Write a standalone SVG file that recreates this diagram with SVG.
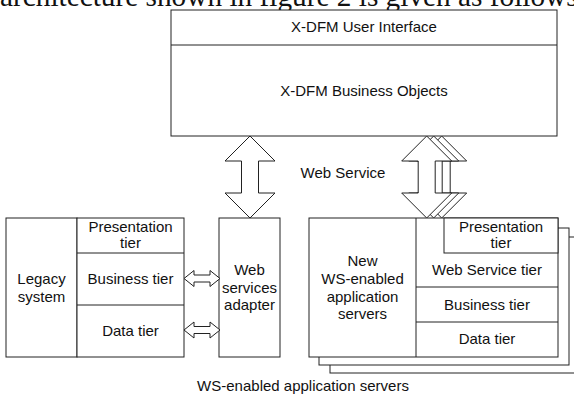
<svg xmlns="http://www.w3.org/2000/svg" width="574" height="399" viewBox="0 0 574 399">
  <style>
    .box { fill: #fff; stroke: #222; stroke-width: 1; }
    .ln { stroke: #222; stroke-width: 1; fill: none; }
    .lbl { font-family: "Liberation Sans", Arial, sans-serif; font-size: 15px; fill: #111; text-anchor: middle; }
    .page { font-family: "Liberation Serif", "Times New Roman", serif; font-size: 29.3px; fill: #111; }
  </style>
  <defs>
    <!-- vertical double arrow, top tip at origin, 82 long -->
    <path id="bigArrow" d="M0,0 L25,25 L8.5,25 L8.5,57 L25,57 L0,82 L-25,57 L-8.5,57 L-8.5,25 L-25,25 Z" fill="#fff" stroke="#222" stroke-width="1"/>
    <!-- horizontal double arrow, left tip at origin, 36 long -->
    <path id="smallArrow" d="M0,0 L10,-8 L10,-3.5 L26,-3.5 L26,-8 L36,0 L26,8 L26,3.5 L10,3.5 L10,8 Z" fill="#fff" stroke="#222" stroke-width="1"/>
  </defs>

  <rect width="574" height="399" fill="#fff"/>

  <!-- running text line above the figure -->
  <text class="page" x="0" y="5.5">architecture shown in figure 2 is given as follows</text>

  <!-- X-DFM client -->
  <g id="xdfm">
    <rect class="box" x="171" y="10" width="386" height="126"/>
    <line class="ln" x1="171" y1="45" x2="557" y2="45"/>
    <text class="lbl" x="364" y="32">X-DFM User Interface</text>
    <text class="lbl" x="364" y="96">X-DFM Business Objects</text>
  </g>

  <!-- legacy system with its tiers -->
  <g id="legacy">
    <rect class="box" x="6" y="218" width="71" height="139"/>
    <text class="lbl" x="41.5" y="284">Legacy</text>
    <text class="lbl" x="41.5" y="301.5">system</text>
    <rect class="box" x="77" y="218" width="107" height="139"/>
    <line class="ln" x1="77" y1="253" x2="184" y2="253"/>
    <line class="ln" x1="77" y1="305" x2="184" y2="305"/>
    <text class="lbl" x="130.5" y="231.5">Presentation</text>
    <text class="lbl" x="130.5" y="248">tier</text>
    <text class="lbl" x="130.5" y="284">Business tier</text>
    <text class="lbl" x="130.5" y="336">Data tier</text>
  </g>

  <!-- adapter -->
  <g id="adapter">
    <rect class="box" x="219" y="218" width="61" height="139"/>
    <text class="lbl" x="249.5" y="274.5">Web</text>
    <text class="lbl" x="249.5" y="292.5">services</text>
    <text class="lbl" x="249.5" y="310">adapter</text>
  </g>

  <!-- stack of WS-enabled application servers -->
  <g id="appservers">
    <rect class="box" x="330" y="237" width="250" height="136"/>
    <rect class="box" x="319" y="228" width="250" height="137"/>
    <rect class="box" x="309" y="218" width="249" height="139"/>
    <line class="ln" x1="416" y1="218" x2="416" y2="357"/>
    <line class="ln" x1="416" y1="287" x2="558" y2="287"/>
    <line class="ln" x1="416" y1="322" x2="558" y2="322"/>
    <rect class="box" x="444" y="218" width="114" height="35"/>
    <text class="lbl" x="362.5" y="266">New</text>
    <text class="lbl" x="362.5" y="284">WS-enabled</text>
    <text class="lbl" x="362.5" y="301.5">application</text>
    <text class="lbl" x="362.5" y="319">servers</text>
    <text class="lbl" x="501" y="231.5">Presentation</text>
    <text class="lbl" x="501" y="248">tier</text>
    <text class="lbl" x="487" y="275">Web Service tier</text>
    <text class="lbl" x="487" y="310">Business tier</text>
    <text class="lbl" x="487" y="344">Data tier</text>
  </g>

  <!-- connectors -->
  <g id="connectors">
    <use href="#bigArrow" x="250" y="136"/>
    <use href="#bigArrow" x="441.7" y="136"/>
    <use href="#bigArrow" x="433.7" y="136"/>
    <use href="#bigArrow" x="426.7" y="136"/>
    <use href="#smallArrow" x="184" y="278.5"/>
    <use href="#smallArrow" x="184" y="330"/>
    <text class="lbl" x="343" y="178">Web Service</text>
  </g>

  <text class="lbl" x="303" y="391">WS-enabled application servers</text>
</svg>
